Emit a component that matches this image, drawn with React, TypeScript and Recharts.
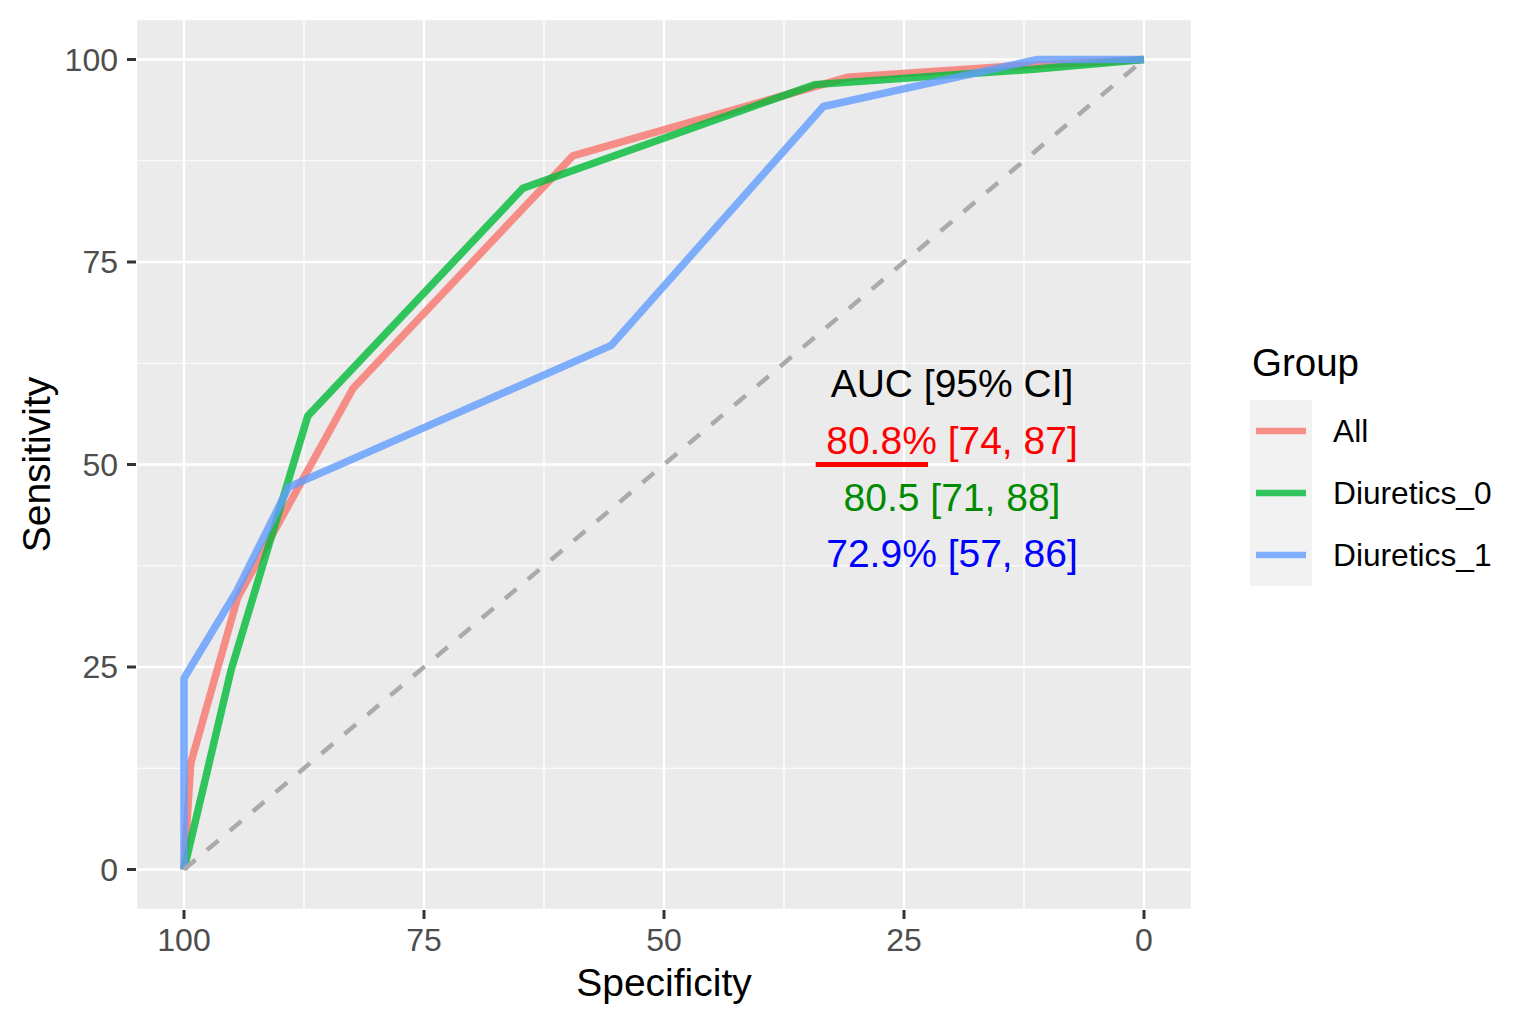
import { CartesianGrid, Line, LineChart, ReferenceDot, ReferenceLine, XAxis, YAxis } from "recharts";

const FONT = "'Liberation Sans', Arial, Helvetica, sans-serif";

// axes
const specTicks = [100, 75, 50, 25, 0];
const sensTicks = [0, 25, 50, 75, 100];
const minorBreaks = [12.5, 37.5, 62.5, 87.5];

// groups
const groups = ["All", "Diuretics_0", "Diuretics_1"];
const groupColors = ["#F8766D", "#00BA38", "#619CFF"];

// ROC points (specificity, sensitivity)
const allSpec = [100, 99.3, 94.4, 82.4, 59.5, 30.9, 13.5, 0];
const allSens = [0, 13.1, 33.6, 59.4, 88.1, 97.8, 99.2, 100];

const d0Spec = [100, 95.1, 87.1, 64.7, 34.3, 11.5, 0];
const d0Sens = [0, 24.6, 56.0, 84.1, 96.9, 98.8, 100];

const d1Spec = [100, 100, 94.5, 89.1, 55.5, 33.4, 11.1, 0];
const d1Sens = [0, 23.6, 34.4, 47.2, 64.7, 94.2, 100, 100];

const chanceSpec = [100, 0];
const chanceSens = [0, 100];

// AUC annotation
const aucLabels = ["AUC [95% CI]", "80.8% [74, 87]", "80.5 [71, 88]", "72.9% [57, 86]"];
const aucColors = ["#000000", "#FF0000", "#008B00", "#0000FF"];
const aucX = 20;
const aucY = [60, 53, 46, 39];
const underlineSpec = [34.2, 22.5];
const underlineSens = 50;

const toPoints = (spec: number[], sens: number[]) =>
  spec.map((s, i) => ({ spec: s, sens: sens[i] }));

const series = [toPoints(allSpec, allSens), toPoints(d0Spec, d0Sens), toPoints(d1Spec, d1Sens)];

export default function App() {
  return (
    <div style={{ position: "absolute", left: 0, top: 0, width: 1519, height: 1016, background: "#fff" }}>
      <LineChart width={1519} height={1016} margin={{ top: 19, right: 327, left: 16, bottom: 16 }}>
        <CartesianGrid stroke="#FFFFFF" strokeWidth={2.4} fill="#EBEBEB" fillOpacity={1} />
        {minorBreaks.map((v) => (
          <ReferenceLine key={`mx${v}`} x={v} stroke="#FFFFFF" strokeWidth={1.2} />
        ))}
        {minorBreaks.map((v) => (
          <ReferenceLine key={`my${v}`} y={v} stroke="#FFFFFF" strokeWidth={1.2} />
        ))}
        <XAxis
          dataKey="spec"
          type="number"
          domain={[-5, 105]}
          reversed
          allowDataOverflow
          ticks={specTicks}
          height={90}
          axisLine={false}
          tickSize={9}
          tickMargin={9}
          tickLine={{ stroke: "#333333", strokeWidth: 3 }}
          tick={{ fill: "#4D4D4D", fontSize: 32, fontFamily: FONT }}
          label={{ value: "Specificity", position: "insideBottom", offset: 4, fill: "#000", fontSize: 39, fontFamily: FONT }}
        />
        <YAxis
          dataKey="sens"
          type="number"
          domain={[-5, 105]}
          allowDataOverflow
          ticks={sensTicks}
          width={120}
          axisLine={false}
          tickSize={9}
          tickMargin={9}
          tickLine={{ stroke: "#333333", strokeWidth: 3 }}
          tick={{ fill: "#4D4D4D", fontSize: 32, fontFamily: FONT }}
          label={{
            value: "Sensitivity",
            angle: -90,
            position: "insideLeft",
            offset: 20,
            fill: "#000",
            fontSize: 39,
            fontFamily: FONT,
            style: { textAnchor: "middle" },
          }}
        />
        {series.map((pts, i) => (
          <Line
            key={groups[i]}
            data={pts}
            dataKey="sens"
            type="linear"
            stroke={groupColors[i]}
            strokeWidth={7.5}
            strokeOpacity={0.8}
            dot={false}
            activeDot={false}
            isAnimationActive={false}
          />
        ))}
        <Line
          data={toPoints(chanceSpec, chanceSens)}
          dataKey="sens"
          type="linear"
          stroke="#AAAAAA"
          strokeWidth={4.5}
          strokeDasharray="15 15"
          dot={false}
          activeDot={false}
          isAnimationActive={false}
        />
        <ReferenceLine
          segment={[
            { x: underlineSpec[0], y: underlineSens },
            { x: underlineSpec[1], y: underlineSens },
          ]}
          stroke="#FF0000"
          strokeWidth={5}
        />
        {aucLabels.map((t, i) => (
          <ReferenceDot
            key={t}
            x={aucX}
            y={aucY[i]}
            r={0}
            fill="none"
            stroke="none"
            label={{ value: t, position: "center", fill: aucColors[i], fontSize: 39, fontFamily: FONT }}
          />
        ))}
      </LineChart>
      <svg
        width={1519}
        height={1016}
        style={{ position: "absolute", left: 0, top: 0, pointerEvents: "none" }}
        fontFamily={FONT}
      >
        <text x={1252} y={376} fontSize={38.5} fill="#000">
          Group
        </text>
        <rect x={1250} y={400} width={62} height={186} fill="#F2F2F2" />
        {groups.map((g, i) => (
          <g key={g}>
            <line
              x1={1256}
              x2={1306}
              y1={431 + 62 * i}
              y2={431 + 62 * i}
              stroke={groupColors[i]}
              strokeWidth={6.5}
              strokeOpacity={0.8}
            />
            <text x={1333} y={442 + 62 * i} fontSize={31.7} fill="#000">
              {g}
            </text>
          </g>
        ))}
      </svg>
    </div>
  );
}
